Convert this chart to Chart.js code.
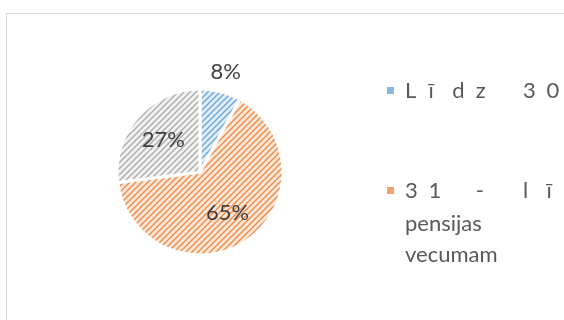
<!DOCTYPE html>
<html>
<head>
<meta charset="utf-8">
<script src="https://cdn.jsdelivr.net/npm/chart.js@4/dist/chart.umd.min.js"></script>
<style>
  html, body { margin: 0; padding: 0; background: #fff; }
  #wrap { position: relative; width: 564px; height: 320px; overflow: hidden; }
</style>
</head>
<body>
<div id="wrap"><canvas id="stage" width="564" height="320"></canvas></div>
<script>
// vecuma grupas un to daļa (%)
const categories = ['Līdz 30 gadiem', '31 - līdz pensijas vecumam', 'Pensijas vecumā'];
const values = [8, 65, 27];
const lineColors = ['#5B9BD5', '#ED7D31', '#A5A5A5'];
const backColors = ['#E2EEF9', '#FDE9DC', '#F2F2F2'];
const markColors = ['#8AB8E3', '#F1A26C', '#C4C4C4'];
// leģendas rindas (sadalītā izlīdzināšana pirmajā rindā)
const legendLines = [
  [{t: 'Līdz 30 gadiem', spread: true}],
  [{t: '31 - līdz pensijas', spread: true}, {t: 'pensijas'}, {t: 'vecumam'}],
  [{t: 'Pensijas vecumā', spread: true}]
];

// svītrots raksts "/" virzienā
function makeHatch(line, back) {
  const c = document.createElement('canvas');
  c.width = 6; c.height = 6;
  const x = c.getContext('2d');
  x.fillStyle = back;
  x.fillRect(0, 0, 6, 6);
  x.strokeStyle = line;
  x.lineWidth = 1.5;
  x.globalAlpha = 0.85;
  x.beginPath();
  x.moveTo(-1, 7); x.lineTo(7, -1);
  x.moveTo(-4, 4); x.lineTo(4, -4);
  x.moveTo(2, 10); x.lineTo(10, 2);
  x.stroke();
  return x.createPattern(c, 'repeat');
}

const ctxMain = document.getElementById('stage').getContext('2d');
const fills = values.map((v, i) => makeHatch(lineColors[i], backColors[i]));

const frame = {
  id: 'frame',
  beforeDraw(chart) {
    const c = chart.ctx;
    c.save();
    c.fillStyle = '#fff';
    c.fillRect(0, 0, chart.width, chart.height);
    c.strokeStyle = '#D9D9D9';
    c.lineWidth = 1;
    c.strokeRect(6.5, 13.5, 700, 400);
    c.restore();
  }
};

const pctLabels = {
  id: 'pctLabels',
  afterDatasetsDraw(chart) {
    const c = chart.ctx;
    const arcs = chart.getDatasetMeta(0).data;
    const total = values.reduce((a, b) => a + b, 0);
    c.save();
    c.font = '22px Lato';
    c.fillStyle = '#404040';
    c.textAlign = 'center';
    c.textBaseline = 'middle';
    arcs.forEach((arc, i) => {
      const p = values[i] / total;
      const mid = (arc.startAngle + arc.endAngle) / 2;
      const r = p < 0.15 ? arc.outerRadius * 1.25 : arc.outerRadius * 0.59;
      const x = arc.x + Math.cos(mid) * r;
      const y = arc.y + Math.sin(mid) * r;
      c.fillText(Math.round(p * 100) + '%', x, y);
    });
    c.restore();
  }
};

const sideLegend = {
  id: 'sideLegend',
  afterDraw(chart) {
    const c = chart.ctx;
    const itemY = [91, 191, 330];
    const pitch = 23.6;
    c.save();
    c.font = '22px Lato';
    c.textBaseline = 'middle';
    categories.forEach((name, i) => {
      const y0 = itemY[i];
      c.fillStyle = markColors[i];
      c.fillRect(387, y0 - 4, 7, 7);
      c.fillStyle = '#595959';
      legendLines[i].forEach((ln, k) => {
        const y = y0 + (k === 0 ? 0 : 2 + k * 31);
        if (ln.spread) {
          [...ln.t].forEach((ch, j) => c.fillText(ch, 405 + j * pitch, y));
        } else {
          c.fillText(ln.t, 405, y);
        }
      });
    });
    c.restore();
  }
};

new Chart(ctxMain, {
  type: 'pie',
  data: {
    labels: categories,
    datasets: [{
      data: values,
      backgroundColor: fills,
      borderColor: '#ffffff',
      borderWidth: 3
    }]
  },
  options: {
    responsive: false,
    animation: false,
    radius: 83,
    layout: { padding: { left: 100, right: 264, top: 90, bottom: 66 } },
    plugins: {
      legend: { display: false },
      tooltip: { enabled: false }
    }
  },
  plugins: [frame, pctLabels, sideLegend]
});
</script>
</body>
</html>
